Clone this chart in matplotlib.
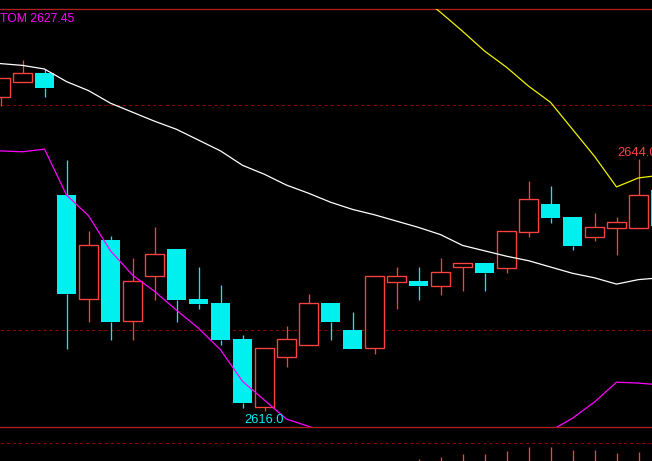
import matplotlib
matplotlib.use("Agg")
import matplotlib.pyplot as plt
import numpy as np

plt.rcParams['lines.scale_dashes'] = False

# ---- data ----
opens  = [2650.9, 2652.6, 2653.6, 2640.0, 2628.4, 2635.0, 2626.0, 2631.0, 2634.0, 2628.4,
          2628.0, 2624.0, 2616.4, 2622.0, 2623.3, 2628.0, 2625.0, 2623.0, 2630.3, 2630.4,
          2629.9, 2632.0, 2632.4, 2631.9, 2635.9, 2639.0, 2637.6, 2635.3, 2636.3, 2636.3,
          2640.6]
highs  = [2653.0, 2655.0, 2654.0, 2643.9, 2636.0, 2635.4, 2633.0, 2636.4, 2634.0, 2632.0,
          2630.0, 2624.4, 2623.0, 2625.4, 2629.0, 2628.0, 2627.0, 2631.0, 2632.0, 2632.0,
          2633.0, 2632.4, 2632.4, 2636.0, 2641.6, 2641.0, 2637.6, 2638.0, 2637.6, 2644.0,
          2640.6]
lows   = [2649.9, 2652.6, 2650.9, 2622.9, 2625.9, 2623.9, 2623.9, 2628.3, 2625.9, 2627.3,
          2623.3, 2616.3, 2616.0, 2620.9, 2623.3, 2623.9, 2622.9, 2622.3, 2627.3, 2628.3,
          2628.9, 2629.3, 2629.3, 2631.3, 2635.3, 2636.9, 2633.9, 2634.9, 2633.3, 2636.3,
          2636.0]
closes = [2653.0, 2653.6, 2651.9, 2629.0, 2634.4, 2625.9, 2630.4, 2633.4, 2628.3, 2627.9,
          2623.9, 2616.9, 2623.0, 2624.0, 2628.0, 2625.9, 2622.9, 2631.0, 2631.0, 2629.9,
          2631.4, 2632.4, 2631.3, 2636.0, 2639.6, 2637.4, 2634.3, 2636.4, 2637.0, 2640.0,
          2636.6]

mid_band = [2654.6, 2654.4, 2654.0, 2652.6, 2651.6, 2650.2, 2649.2, 2648.2, 2647.3, 2646.1,
            2644.9, 2643.3, 2642.3, 2641.1, 2640.2, 2639.2, 2638.4, 2637.8, 2637.1, 2636.4,
            2635.6, 2634.4, 2633.8, 2633.2, 2632.7, 2632.0, 2631.3, 2630.8, 2630.1, 2630.6,
            2630.8]
lower_band = [2644.9, 2644.8, 2645.1, 2640.0, 2637.7, 2633.8, 2631.1, 2629.3, 2627.2, 2625.2,
              2622.8, 2619.3, 2617.2, 2615.1, 2614.3, 2613.2, 2612.4, 2612.0, 2611.7, 2611.4,
              2611.4, 2611.7, 2612.0, 2612.4, 2613.0, 2613.8, 2615.2, 2617.0, 2619.2, 2619.1,
              2618.9]
upper_band = [2664.3, 2664.4, 2664.8, 2665.0, 2665.6, 2666.1, 2666.4, 2666.8, 2667.0, 2667.1,
              2667.2, 2667.4, 2667.2, 2667.2, 2667.0, 2666.1, 2665.0, 2663.8, 2663.0, 2662.2,
              2660.3, 2658.2, 2656.0, 2654.2, 2652.1, 2650.3, 2647.3, 2644.3, 2640.9, 2641.9,
              2642.2]
hist_vals = [np.nan] * 19 + [2, 4, 7, 7, 10, 14, 14, 11, 11, 8, 9, np.nan]

grid_levels = [2650, 2625]
label_text = "TOM 2627.45"
low_label = "2616.0"
high_label = "2644.0"

# ---- style ----
RED = '#FF4040'
CYAN = '#00F0F0'
MAG = '#FF00FF'
YEL = '#F0F000'
SPINE = '#B01E1E'
DASH = '#8C0000'
PX = 0.72  # one pixel in points at dpi 100

W, H = 652, 461
fig = plt.figure(figsize=(W / 100, H / 100), dpi=100, facecolor='black')

X0 = -0.5 / 22
X1 = X0 + W / 22

ax = fig.add_axes([0, (H - 427) / H, 1, (427 - 9) / H])
ax.set_facecolor('black')
ax.set_xlim(X0, X1)
ax.set_ylim(2661.667 - 427 / 9, 2661.667 - 9 / 9)
ax.set_xticks([])
ax.set_yticks([])
for s in ['left', 'right']:
    ax.spines[s].set_visible(False)
for s in ['top', 'bottom']:
    ax.spines[s].set_color(SPINE)
    ax.spines[s].set_linewidth(1.3 * PX)

for g in grid_levels:
    ax.axhline(g, color=DASH, lw=PX, ls=(0, (2.4, 2.0)), zorder=1)

x = np.arange(len(opens))
for i in range(len(opens)):
    o, h, l, c = opens[i], highs[i], lows[i], closes[i]
    top, bot = max(o, c), min(o, c)
    up = c >= o
    col = RED if up else CYAN
    ax.vlines(x[i], top, h, color=col, lw=PX * 1.3, zorder=2, snap=True)
    ax.vlines(x[i], l, bot, color=col, lw=PX * 1.3, zorder=2, snap=True)
    body = max(top - bot, 0.05)
    if up:
        ax.bar(x[i], body, bottom=bot, width=0.82, facecolor='black', edgecolor=col,
               linewidth=PX * 1.35, zorder=3, joinstyle='miter', snap=True)
    else:
        ax.bar(x[i], body, bottom=bot, width=0.86, facecolor=col, edgecolor='none',
               zorder=3, snap=True)

ax.plot(x, mid_band, color='white', lw=PX * 1.25, zorder=4)
ax.plot(x, lower_band, color=MAG, lw=PX * 1.25, zorder=4)
ax.plot(x, upper_band, color=YEL, lw=PX * 1.25, zorder=4)

ilow = int(np.argmin(lows))
ax.annotate(low_label, xy=(x[ilow], lows[ilow]), xytext=(0, -2.0), textcoords='offset points',
            ha='center', va='top', color=CYAN, fontsize=9.3, family='Liberation Sans', zorder=5)
ihigh = len(highs) - 2
ax.annotate(high_label, xy=(x[ihigh], highs[ihigh]), xytext=(-0.8, 2.2), textcoords='offset points',
            ha='center', va='baseline', color=RED, fontsize=9.3, family='Liberation Sans',
            zorder=5, annotation_clip=False)

fig.text(0.5 / W, 1 - 22 / H, label_text, ha='left', va='baseline', color=MAG,
         fontsize=8.8, family='Liberation Sans')

# lower indicator panel
ax2 = fig.add_axes([0, 0, 1, 33 / H])
ax2.set_facecolor('black')
ax2.patch.set_alpha(0)
ax2.set_xlim(X0, X1)
ax2.set_ylim(0, 33)
ax2.set_xticks([])
ax2.set_yticks([])
for s in ax2.spines.values():
    s.set_visible(False)
ax2.axhline(18, color=DASH, lw=PX, ls=(0, (2.4, 2.0)))
hv = np.array(hist_vals, dtype=float)
m = ~np.isnan(hv)
ax2.vlines(x[m], 0, hv[m], color=RED, lw=PX * 1.3, snap=True)

fig.savefig('out.png', dpi=100, facecolor='black')
